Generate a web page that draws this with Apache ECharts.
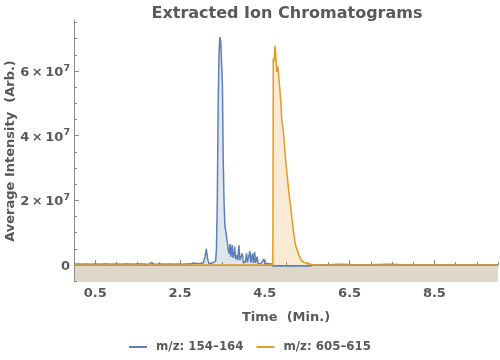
<!DOCTYPE html>
<html>
<head>
<meta charset="utf-8">
<script src="https://cdn.jsdelivr.net/npm/echarts@6/dist/echarts.min.js"></script>
<style>html,body{margin:0;padding:0;background:#fff}#c{width:500px;height:360px}</style>
</head>
<body>
<div id="c"></div>
<script>
// Intensities in units of 10^7 (Arb.)
var seriesNames = ['m/z: 154\u2013164', 'm/z: 605\u2013615'];
var blueTime = [0.00,0.10,0.20,0.30,0.40,0.50,0.60,0.70,0.80,0.90,1.00,1.10,1.20,1.30,1.40,1.50,1.60,1.70,1.78,1.83,1.88,1.95,2.05,2.15,2.25,2.35,2.45,2.55,2.65,2.75,2.82,2.86,2.90,2.95,3.00,3.05,3.09,3.12,3.15,3.18,3.22,3.26,3.30,3.34,3.36,3.38,3.40,3.42,3.44,3.46,3.48,3.50,3.52,3.54,3.56,3.58,3.60,3.62,3.64,3.66,3.68,3.70,3.73,3.75,3.77,3.79,3.81,3.84,3.86,3.89,3.91,3.94,3.97,3.99,4.02,4.04,4.07,4.09,4.12,4.15,4.17,4.21,4.23,4.26,4.28,4.32,4.34,4.38,4.41,4.45,4.48,4.50,4.55,4.60,4.65,4.67,4.69,4.80,4.95,5.10,5.25,5.40,5.55,5.65,5.80,6.00,6.30,6.60,7.00,7.40,7.80,8.20,8.60,9.00,9.40,9.80,10.00];
var blueValue = [0.02,0.03,0.02,0.03,0.02,0.03,0.02,0.03,0.03,0.02,0.03,0.02,0.03,0.03,0.02,0.03,0.03,0.02,0.03,0.08,0.03,0.02,0.03,0.02,0.03,0.02,0.03,0.02,0.03,0.03,0.06,0.10,0.05,0.04,0.05,0.06,0.25,0.50,0.20,0.05,0.04,0.06,0.05,0.12,0.50,2.00,5.00,6.50,7.05,6.95,6.90,5.60,3.20,1.90,1.20,1.05,0.85,0.90,0.45,0.35,0.65,0.25,0.62,0.22,0.30,0.57,0.18,0.30,0.15,0.61,0.15,0.20,0.36,0.10,0.15,0.08,0.36,0.08,0.12,0.43,0.07,0.36,0.06,0.41,0.06,0.26,0.05,0.08,0.04,0.06,0.18,0.04,0.05,0.03,0.04,0.02,-0.03,-0.02,-0.03,-0.02,-0.03,-0.02,-0.03,0.00,0.01,0.01,0.02,0.01,0.01,0.02,0.01,0.01,0.01,0.01,0.01,0.01,0.01];
var orangeTime = [0.00,2.75,2.77,2.79,4.69,4.70,4.72,4.74,4.76,4.78,4.81,4.83,4.85,4.88,4.90,4.93,4.95,4.98,5.01,5.05,5.09,5.13,5.17,5.21,5.25,5.28,5.31,5.33,5.36,5.39,5.42,5.45,5.48,5.52,5.56,5.62,5.70,6.36,6.38,6.40,7.70,7.72,7.74,10.00];
var orangeValue = [0.00,0.00,0.05,0.00,0.00,6.40,6.30,6.78,6.50,5.98,6.14,5.80,5.51,5.00,4.48,4.20,3.97,3.40,3.00,2.47,2.00,1.55,1.10,0.72,0.50,0.41,0.28,0.30,0.15,0.18,0.08,0.10,0.06,0.04,0.03,0.01,0.00,0.00,0.05,0.00,0.00,0.04,0.00,0.00];
var xMajorTicks = [0.5,2.5,4.5,6.5,8.5];
var xMinorTicks = [0,1,1.5,2,3,3.5,4,5,5.5,6,7,7.5,8,9,9.5,10];
var yMajorTicks = [0,2,4,6];
var yMinorTicks = [-0.5,0.5,1,1.5,2.5,3,3.5,4.5,5,5.5,6.5,7,7.5];

function pairs(t, v) { return t.map(function (x, i) { return [x, v[i]]; }); }

var TXT = '#595959';
var AX = '#8a8a8a';
var FONT = 'DejaVu Sans';
var BLUE = '#5E81B5', ORANGE = '#E19C24';
var yMin = -0.526, yMax = 7.58;

var chart = echarts.init(document.getElementById('c'), null, {renderer: 'canvas'});
chart.setOption({
  animation: false,
  backgroundColor: '#fff',
  title: {
    text: 'Extracted Ion Chromatograms',
    left: 282, top: 1, textAlign: 'center',
    textStyle: {fontFamily: FONT, fontSize: 16, fontWeight: 'bold', color: TXT}
  },
  legend: {
    bottom: 2, left: 'center',
    icon: 'rect', itemWidth: 18, itemHeight: 2, itemGap: 13,
    textStyle: {fontFamily: FONT, fontSize: 11.8, fontWeight: 'bold', color: TXT, padding: [0, 0, 0, 4]},
    data: seriesNames
  },
  grid: {left: 74, right: 2, top: 20, bottom: 78, outerBoundsMode: 'none', containLabel: false},
  xAxis: [{
    type: 'value', min: 0, max: 10,
    name: 'Time  (Min.)', nameLocation: 'middle', nameGap: 29, nameMoveOverlap: false,
    nameTextStyle: {fontFamily: FONT, fontSize: 13, fontWeight: 'bold', color: TXT, verticalAlign: 'top'},
    axisLine: {show: true, lineStyle: {color: AX, width: 1}},
    axisTick: {show: true, inside: true, length: 5, customValues: xMajorTicks, lineStyle: {color: AX}},
    axisLabel: {customValues: xMajorTicks, margin: 5, fontFamily: FONT, fontSize: 13, fontWeight: 'bold', color: TXT,
      formatter: function (v) { return v.toFixed(1); }},
    splitLine: {show: false}
  }, {
    type: 'value', min: 0, max: 10, position: 'bottom',
    axisLine: {show: false},
    axisTick: {show: true, inside: true, length: 3, customValues: xMinorTicks, lineStyle: {color: AX}},
    axisLabel: {show: false}, splitLine: {show: false}
  }],
  yAxis: [{
    type: 'value', min: yMin, max: yMax,
    name: 'Average Intensity  (Arb.)', nameLocation: 'middle', nameGap: 57, nameRotate: 90, nameMoveOverlap: false,
    nameTextStyle: {fontFamily: FONT, fontSize: 13, fontWeight: 'bold', color: TXT},
    axisLine: {show: true, lineStyle: {color: AX, width: 1}},
    axisTick: {show: true, inside: true, length: 5, customValues: yMajorTicks, lineStyle: {color: AX}},
    axisLabel: {customValues: yMajorTicks, margin: 4, color: TXT,
      formatter: function (v) { return v === 0 ? '{b|0}' : '{b|' + v + '\u2009\u00d7\u200910}{s|7}'; },
      rich: {
        b: {fontFamily: FONT, fontSize: 13, fontWeight: 'bold', color: TXT, lineHeight: 16, verticalAlign: 'bottom'},
        s: {fontFamily: FONT, fontSize: 9.5, fontWeight: 'bold', color: TXT, lineHeight: 10, verticalAlign: 'bottom', padding: [0, 0, 6, 0]}
      }},
    splitLine: {show: false}
  }, {
    type: 'value', min: yMin, max: yMax, position: 'left',
    axisLine: {show: false},
    axisTick: {show: true, inside: true, length: 3, customValues: yMinorTicks, lineStyle: {color: AX}},
    axisLabel: {show: false}, splitLine: {show: false}
  }],
  series: [{
    name: seriesNames[0], type: 'line', data: pairs(blueTime, blueValue),
    showSymbol: false, symbol: 'none',
    lineStyle: {color: BLUE, width: 1.5}, itemStyle: {color: BLUE},
    areaStyle: {origin: 'start', color: BLUE, opacity: 0.2}
  }, {
    name: seriesNames[1], type: 'line', data: pairs(orangeTime, orangeValue),
    showSymbol: false, symbol: 'none',
    lineStyle: {color: ORANGE, width: 1.5}, itemStyle: {color: ORANGE},
    areaStyle: {origin: 'start', color: ORANGE, opacity: 0.2}
  }]
});
</script>
</body>
</html>
